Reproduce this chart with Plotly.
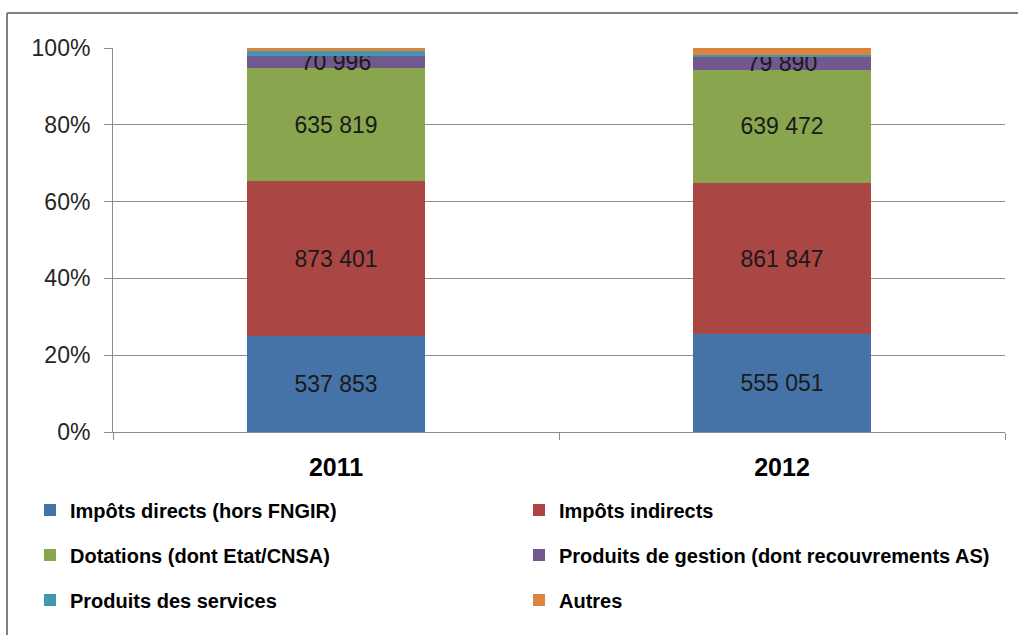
import plotly.graph_objects as go

years = ["2011", "2012"]
series_names = [
    "Impôts directs (hors FNGIR)",
    "Impôts indirects",
    "Dotations (dont Etat/CNSA)",
    "Produits de gestion (dont recouvrements AS)",
    "Produits des services",
    "Autres",
]
impots_directs = [537853, 555051]
impots_indirects = [873401, 861847]
dotations = [635819, 639472]
produits_gestion = [70996, 79890]
produits_services = [28000, 8000]   # estimated (no label)
autres = [15000, 38000]             # estimated (no label)

values = [impots_directs, impots_indirects, dotations, produits_gestion, produits_services, autres]
show_labels = [True, True, True, True, False, False]
colors = ["#4572A7", "#AA4643", "#89A54E", "#71588F", "#4198AF", "#DB843D"]
legend_ids = ["legend", "legend", "legend2", "legend2", "legend3", "legend3"]

W, H = 1018, 635
L, R, T, B = 113, 13, 48, 203
pw = W - L - R
ph = H - T - B

def px_x(x):
    return (x - L) / pw

def px_y(y):
    return (H - B - y) / ph

def fmt(v):
    return f"{v:,}".replace(",", " ")

fig = go.Figure()
for name, vals, lab, col, lg in zip(series_names, values, show_labels, colors, legend_ids):
    fig.add_trace(go.Bar(
        x=years, y=vals, name=name,
        marker=dict(color=col, line=dict(width=0)),
        width=0.4,
        text=[fmt(v) for v in vals] if lab else None,
        textposition="inside" if lab else "none",
        insidetextanchor="middle",
        constraintext="none",
        textfont=dict(color="#1a1a1a", size=23, family="Liberation Sans"),
        legend=lg,
        hoverinfo="name+y",
    ))

grid_col = "#8c8c8c"
leg_common = dict(
    orientation="h", xanchor="left", yanchor="middle",
    entrywidth=444, entrywidthmode="pixels",
    font=dict(family="Liberation Sans", size=20, color="#000000", weight="bold"),
    bgcolor="rgba(0,0,0,0)", itemclick=False, itemdoubleclick=False,
    traceorder="normal",
)

fig.update_layout(
    width=W, height=H,
    margin=dict(l=L, r=R, t=T, b=B),
    barmode="stack", barnorm="percent",
    uniformtext=dict(minsize=23, mode="show"),
    paper_bgcolor="white", plot_bgcolor="white",
    font=dict(family="Liberation Sans", color="#262626"),
    legend=dict(x=px_x(30), y=px_y(510), **leg_common),
    legend2=dict(x=px_x(30), y=px_y(555), **leg_common),
    legend3=dict(x=px_x(30), y=px_y(600), **leg_common),
    xaxis=dict(
        type="category", range=[-0.5, 1.5],
        showline=True, linecolor=grid_col, linewidth=1,
        ticks="outside", ticklen=7, tickcolor=grid_col, tickson="boundaries",
        tickfont=dict(size=25, color="#000000", family="Liberation Sans", weight="bold"),
        ticklabelstandoff=13,
        showgrid=False, zeroline=False,
    ),
    yaxis=dict(
        range=[0, 100], dtick=20, ticksuffix="%",
        showline=True, linecolor=grid_col, linewidth=1,
        ticks="outside", ticklen=8, tickcolor=grid_col,
        tickfont=dict(size=23, color="#262626", family="Liberation Sans"),
        ticklabelstandoff=9,
        showgrid=True, gridcolor=grid_col, gridwidth=1,
        zeroline=False,
    ),
    showlegend=True,
)

# outer chart frame (top and left edges visible)
frame_col = "#808080"
fig.add_shape(type="line", xref="paper", yref="paper",
              x0=px_x(7), x1=px_x(W + 5), y0=px_y(13), y1=px_y(13),
              line=dict(color=frame_col, width=2))
fig.add_shape(type="line", xref="paper", yref="paper",
              x0=px_x(7), x1=px_x(7), y0=px_y(13), y1=px_y(H + 5),
              line=dict(color=frame_col, width=2))

fig.write_html(
    "out.html",
    config={"displayModeBar": False},
    post_script="document.body.style.margin='0px';document.body.style.padding='0px';",
)
